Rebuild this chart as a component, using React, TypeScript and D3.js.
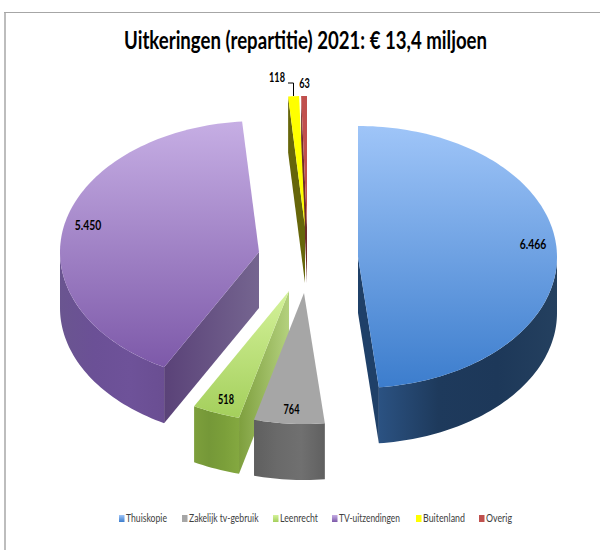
import React from "react";
import * as d3 from "d3";

const categories = ["Thuiskopie", "Zakelijk tv-gebruik", "Leenrecht", "TV-uitzendingen", "Buitenland", "Overig"];
const values = [6466, 764, 518, 5450, 118, 63];
const valueLabels = ["6.466", "764", "518", "5.450", "118", "63"];

const W = 600, H = 550;
const RX = 199, RY = 131, DEPTH = 56;
// exploded slice centres (layout)
const centres: [number, number][] = [[358, 257], [304, 293], [289, 291], [259, 252], [305, 227], [307, 227]];
const labelPos: [number, number][] = [[533, 245], [291.5, 410], [226, 400], [88, 226], [277, 78], [304.5, 84]];
const legendX = [119, 182, 273, 332, 416, 479];
const legendW = [41, 69.5, 38, 61, 42, 26];
const drawOrder = [5, 4, 3, 2, 1, 0];

const topGrad = [["#9fc5f8", "#3c7dcd"], ["#a6a6a6", "#a6a6a6"], ["#d4f29a", "#a4cf5c"], ["#c6aee4", "#7d59a9"], ["#ffff00", "#ffff00"], ["#c0504d", "#c0504d"]];
const wallStops = [
  ["#2b5282", "#1e3a5c", "#1d3859", "#24405f"],
  ["#5f5f5f", "#6a6a6a", "#707070", "#606060"],
  ["#7d9f3c", "#759838", "#7b9f3a", "#84a840"],
  ["#6a5590", "#6b5096", "#6e5299", "#6a4e92"],
  ["#7a7a00", "#7a7a00", "#6f6f00", "#6f6f00"],
  ["#7a3230", "#7a3230", "#7a3230", "#7a3230"],
];
const edgeStops = [
  ["#1f4068", "#1f4068"],
  ["#666666", "#666666"],
  ["#7e9f3e", "#b4d17e"],
  ["#5a4278", "#756590"],
  ["#66660a", "#66660a"],
  ["#6e2d2b", "#6e2d2b"],
];

const pie = d3.pie<number>().sort(null).value((d) => d).startAngle(0).endAngle(2 * Math.PI);
const arcs = pie(values);
const line = d3.line<[number, number]>();

const pt = (i: number, a: number, dy = 0): [number, number] => [
  centres[i][0] + RX * Math.sin(a),
  centres[i][1] - RY * Math.cos(a) + dy,
];
const arcPts = (i: number, a0: number, a1: number, dy = 0) => {
  const n = Math.max(2, Math.ceil(Math.abs(a1 - a0) * 40));
  return d3.range(n + 1).map((k) => pt(i, a0 + ((a1 - a0) * k) / n, dy));
};

const TITLE_SX = 0.68;

export default function App() {
  const slices = drawOrder.map((i) => {
    const a0 = arcs[i].startAngle, a1 = arcs[i].endAngle;
    const c = centres[i];
    const topPts: [number, number][] = [[c[0], c[1]], ...arcPts(i, a0, a1)];
    const w0 = Math.max(a0, Math.PI / 2), w1 = Math.min(a1, (3 * Math.PI) / 2);
    const outer = w1 > w0 ? [...arcPts(i, w0, w1), ...arcPts(i, w1, w0, DEPTH)] : null;
    const cutFaces: { a: number }[] = [];
    if (i === 0) cutFaces.push({ a: a1 });
    if (i === 2) cutFaces.push({ a: a0 });
    if (i === 3) cutFaces.push({ a: a0 });
    if (i === 4 || i === 5) cutFaces.push({ a: a0 });
    return { i, topPts, outer, cutFaces, c };
  });

  return (
    <svg width={W} height={H} viewBox={`0 0 ${W} ${H}`} style={{ position: "absolute", left: 0, top: 0, background: "#fff" }}>
      <defs>
        {categories.map((_, i) => (
          <linearGradient key={i} id={`top${i}`} x1="0" y1="0" x2="0" y2="1">
            <stop offset="0" stopColor={topGrad[i][0]} />
            <stop offset="1" stopColor={topGrad[i][1]} />
          </linearGradient>
        ))}
        {categories.map((_, i) => (
          <linearGradient key={i} id={`wall${i}`} x1="0" y1="0" x2="1" y2="0">
            {wallStops[i].map((s, k) => (
              <stop key={k} offset={k / 3} stopColor={s} />
            ))}
          </linearGradient>
        ))}
        {categories.map((_, i) => (
          <linearGradient key={i} id={`edge${i}`} x1="0" y1="0" x2="1" y2="0">
            <stop offset="0" stopColor={edgeStops[i][0]} />
            <stop offset="1" stopColor={edgeStops[i][1]} />
          </linearGradient>
        ))}
      </defs>
      <path d="M5 550V12" fill="none" stroke="#bdbdbd" strokeWidth={2} />
      <path d="M4 12.5H600" fill="none" stroke="#a6a6a6" strokeWidth={1} />
      <text transform={`translate(305.5,49) scale(${TITLE_SX},1)`} textAnchor="middle" fontFamily="Lato, 'Open Sans', sans-serif" fontWeight={700} fontSize={25.5} textLength={363 / TITLE_SX} lengthAdjust="spacingAndGlyphs" fill="#000">
        Uitkeringen (repartitie) 2021: € 13,4 miljoen
      </text>
      {slices.map(({ i, topPts, outer, cutFaces, c }) => (
        <g key={i}>
          {cutFaces.map(({ a }, k) => {
            const e = pt(i, a);
            const quad: [number, number][] = [[c[0], c[1]], e, [e[0], e[1] + DEPTH], [c[0], c[1] + DEPTH]];
            return <path key={k} d={line(quad) + "Z"} fill={`url(#edge${i})`} />;
          })}
          {outer && <path d={line(outer) + "Z"} fill={`url(#wall${i})`} />}
          <path d={line(topPts) + "Z"} fill={`url(#top${i})`} />
        </g>
      ))}
      <path d="M288 83H293.5V96" fill="none" stroke="#000" strokeWidth={1} />
      {valueLabels.map((t, i) => (
        <text key={i} x={labelPos[i][0]} y={labelPos[i][1]} dy="0.35em" textAnchor="middle" fontFamily="Lato, sans-serif" fontWeight={700} fontSize={12.5} fill="#000" textLength={t.length * 5.3} lengthAdjust="spacingAndGlyphs">
          {t}
        </text>
      ))}
      {categories.map((t, i) => (
        <g key={t}>
          <rect x={legendX[i]} y={515} width={5.5} height={7} fill={i < 4 ? `url(#top${i})` : topGrad[i][0]} />
          <text x={legendX[i] + 7} y={522} fontFamily="Lato, sans-serif" fontSize={10.5} fill="#404040" textLength={legendW[i]} lengthAdjust="spacingAndGlyphs">
            {t}
          </text>
        </g>
      ))}
    </svg>
  );
}
